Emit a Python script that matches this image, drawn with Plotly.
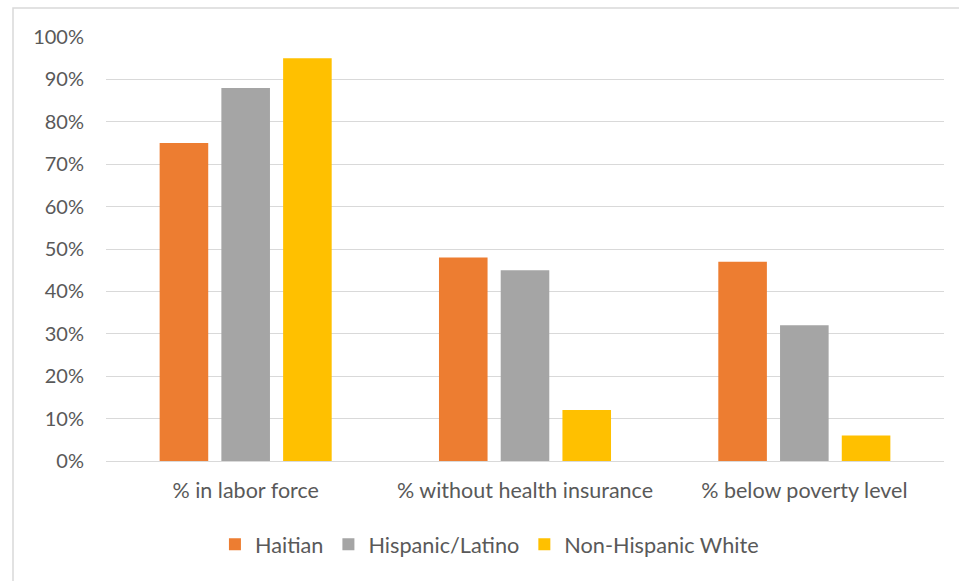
import plotly.graph_objects as go

categories = ["% in labor force", "% without health insurance", "% below poverty level"]
haitian = [0.75, 0.48, 0.47]
hispanic = [0.88, 0.45, 0.32]
non_hispanic_white = [0.95, 0.12, 0.06]
series_names = ["Haitian", "Hispanic/Latino", "Non-Hispanic White"]
series_colors = ["#ED7D31", "#A5A5A5", "#FFC000"]
y_ticks = [i / 10 for i in range(11)]

font_family = "Lato, 'Open Sans', sans-serif"
text_color = "#595959"

fig = go.Figure()
for name, vals, color in zip(series_names, [haitian, hispanic, non_hispanic_white], series_colors):
    fig.add_trace(go.Bar(name=name, x=categories, y=vals, marker_color=color,
                         marker_line_width=0))

fig.update_layout(
    width=959, height=581,
    margin=dict(l=106, r=15, t=37, b=120),
    paper_bgcolor="white", plot_bgcolor="white",
    barmode="group", bargap=0.337, bargroupgap=0.213,
    font=dict(family=font_family, size=20, color=text_color),
    legend=dict(orientation="h", x=0.130, xanchor="left", y=-0.197, yanchor="middle",
                font=dict(size=21.7, color=text_color), itemwidth=30,
                traceorder="normal"),
    xaxis=dict(showgrid=False, showline=True, linecolor="#D9D9D9", linewidth=1,
               ticks="", ticklabelstandoff=10,
               tickfont=dict(size=21.5, color=text_color)),
    yaxis=dict(range=[0, 1], tickvals=y_ticks, tickformat=".0%",
               showgrid=True, gridcolor="#D9D9D9", gridwidth=1,
               zeroline=False, showline=False, ticks="", ticklabelstandoff=21,
               tickfont=dict(size=20, color=text_color)),
    shapes=[dict(type="rect", xref="paper", yref="paper",
                 x0=-93 / 838, x1=1.2, y0=-0.6, y1=1 + 29 / 424,
                 line=dict(color="#D9D9D9", width=1.5), fillcolor="rgba(0,0,0,0)",
                 layer="below")],
)

fig.write_html("out.html")
